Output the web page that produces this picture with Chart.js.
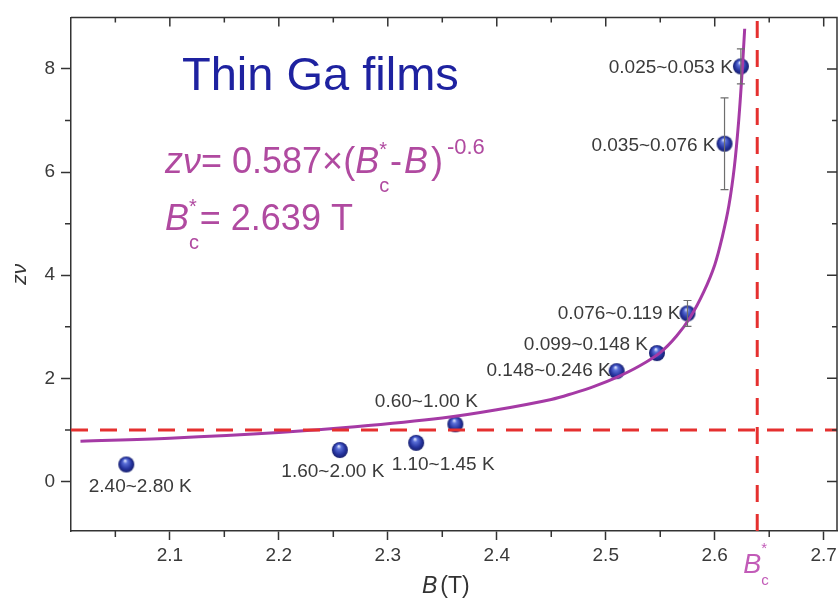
<!DOCTYPE html>
<html>
<head>
<meta charset="utf-8">
<script src="https://cdn.jsdelivr.net/npm/chart.js@4.4.0/dist/chart.umd.min.js"></script>
<style>
  html, body { margin: 0; padding: 0; overflow: hidden; background: #fff; }
  #wrap { width: 838px; height: 602px; overflow: hidden; }
  canvas { display: block; }
</style>
</head>
<body>
<div id="wrap"><canvas id="zvChart" width="846" height="602"></canvas></div>
<script>
// measured points, B (T) vs z*nu
const fieldB = [2.060, 2.256, 2.326, 2.362, 2.510, 2.547, 2.575, 2.609, 2.624];
const zNu = [0.33, 0.61, 0.75, 1.11, 2.14, 2.49, 3.26, 6.55, 8.05];
const zNuErr = [0, 0, 0, 0, 0, 0, 0.25, 0.89, 0.34];
const tempRange = ['2.40~2.80 K', '1.60~2.00 K', '1.10~1.45 K', '0.60~1.00 K', '0.148~0.246 K',
  '0.099~0.148 K', '0.076~0.119 K', '0.035~0.076 K', '0.025~0.053 K'];

// fitted power law
const fitB = [2.018, 2.10, 2.20, 2.27, 2.35, 2.40, 2.45, 2.47, 2.49, 2.51, 2.53, 2.55, 2.565,
  2.578, 2.59, 2.60, 2.607, 2.613, 2.618, 2.622, 2.625, 2.6275];
const fitZ = [0.78, 0.84, 0.95, 1.06, 1.23, 1.39, 1.59, 1.71, 1.85, 2.02, 2.23, 2.50, 2.82,
  3.20, 3.68, 4.20, 4.75, 5.35, 6.10, 7.00, 7.90, 8.78];

const bcStar = 2.639;
const zNuRef = 1;

const xTicks = [2.1, 2.2, 2.3, 2.4, 2.5, 2.6, 2.7];
const xMinor = [2.05, 2.15, 2.25, 2.35, 2.45, 2.55, 2.65];
const yTicks = [0, 2, 4, 6, 8];
const yMinor = [1, 3, 5, 7];
const xRange = [2.0093, 2.7122];
const yRange = [-0.96, 9.0];

// label placement next to each point: [align, dx, dy]
const labelPlace = [['center', 14, 22], ['center', -7, 22], ['center', 27, 22], ['center', -29, -22],
  ['right', -6, 0], ['right', -9, -8], ['right', -7, 0], ['right', -9, 2], ['right', -8, 1]];

const FONT = '"Liberation Sans", Arial, sans-serif';
const AXIS = '#333';
const PURPLE = '#a53aa5';
const PINK = '#b04aa0';

Chart.defaults.font.family = FONT;

function makeBall(r) {
  var c = document.createElement('canvas');
  c.width = c.height = 2 * r + 2;
  var g = c.getContext('2d');
  var m = r + 1;
  var grad = g.createRadialGradient(m - r * 0.15, m - r * 0.5, r * 0.05, m, m, r);
  grad.addColorStop(0, '#dfe6ff');
  grad.addColorStop(0.25, '#5a6fd8');
  grad.addColorStop(0.7, '#25339e');
  grad.addColorStop(1, '#18206e');
  g.fillStyle = grad;
  g.beginPath();
  g.arc(m, m, r, 0, Math.PI * 2);
  g.fill();
  return c;
}

function xy(xs, ys) {
  return xs.map((v, i) => ({ x: v, y: ys[i] }));
}

// draws text runs left to right (sub/superscripts etc.)
function drawRuns(ctx, x, y, runs) {
  runs.forEach(r => {
    ctx.font = (r.italic ? 'italic ' : '') + r.size + 'px ' + FONT;
    ctx.fillText(r.t, x, y + (r.dy || 0));
    if (!r.stack) x += ctx.measureText(r.t).width + (r.gap || 0);
  });
}

// box, minor ticks, inner ticks, error bars, labels
const decor = {
  id: 'decor',
  afterDatasetsDraw(chart) {
    const { ctx, chartArea: a, scales: { x, y } } = chart;
    ctx.save();
    ctx.strokeStyle = AXIS;
    ctx.lineWidth = 1.5;
    ctx.beginPath();
    ctx.moveTo(a.left, a.top);
    ctx.lineTo(a.right, a.top);
    ctx.lineTo(a.right, a.bottom);
    ctx.stroke();

    ctx.beginPath();
    xTicks.forEach(v => {
      var px = x.getPixelForValue(v);
      ctx.moveTo(px, a.top); ctx.lineTo(px, a.top + 9);
    });
    xMinor.forEach(v => {
      var px = x.getPixelForValue(v);
      ctx.moveTo(px, a.top); ctx.lineTo(px, a.top + 5);
      ctx.moveTo(px, a.bottom); ctx.lineTo(px, a.bottom + 6);
    });
    yTicks.forEach(v => {
      var py = y.getPixelForValue(v);
      ctx.moveTo(a.right, py); ctx.lineTo(a.right - 10, py);
    });
    yMinor.forEach(v => {
      var py = y.getPixelForValue(v);
      ctx.moveTo(a.left, py); ctx.lineTo(a.left - 6, py);
      ctx.moveTo(a.right, py); ctx.lineTo(a.right - 5, py);
    });
    ctx.stroke();

    // error bars
    ctx.strokeStyle = '#6e6e6e';
    ctx.lineWidth = 1.2;
    ctx.beginPath();
    fieldB.forEach((b, i) => {
      if (!zNuErr[i]) return;
      var px = x.getPixelForValue(b);
      var hi = y.getPixelForValue(zNu[i] + zNuErr[i]);
      var lo = y.getPixelForValue(zNu[i] - zNuErr[i]);
      ctx.moveTo(px, hi); ctx.lineTo(px, lo);
      ctx.moveTo(px - 4, hi); ctx.lineTo(px + 4, hi);
      ctx.moveTo(px - 4, lo); ctx.lineTo(px + 4, lo);
    });
    ctx.stroke();

    // temperature labels
    ctx.fillStyle = '#3a3a3a';
    ctx.font = '19px ' + FONT;
    ctx.textBaseline = 'middle';
    fieldB.forEach((b, i) => {
      var p = labelPlace[i];
      ctx.textAlign = p[0];
      ctx.fillText(tempRange[i], x.getPixelForValue(b) + p[1], y.getPixelForValue(zNu[i]) + p[2]);
    });

    // title and fit formula
    ctx.textAlign = 'left';
    ctx.textBaseline = 'alphabetic';
    ctx.fillStyle = '#1e22a0';
    ctx.font = '47px ' + FONT;
    ctx.fillText('Thin Ga films', 182, 90);

    ctx.fillStyle = PINK;
    drawRuns(ctx, 165, 173, [
      { t: 'zν', italic: true, size: 36 },
      { t: '= 0.587×(', size: 36 },
      { t: 'B', italic: true, size: 36 },
      { t: 'c', size: 20, dy: 19, stack: true },
      { t: '*', size: 20, dy: -17, gap: 3 },
      { t: '-', size: 36, gap: 2 },
      { t: 'B', italic: true, size: 36, gap: 3 },
      { t: ')', size: 36, gap: 4 },
      { t: '-0.6', size: 22, dy: -19 }
    ]);
    drawRuns(ctx, 165, 230, [
      { t: 'B', italic: true, size: 36 },
      { t: 'c', size: 20, dy: 19, stack: true },
      { t: '*', size: 20, dy: -17, gap: 3 },
      { t: '= 2.639 T', size: 36 }
    ]);

    // B_c* marker under the axis
    ctx.fillStyle = '#c25bb8';
    var bx = x.getPixelForValue(bcStar);
    drawRuns(ctx, bx - 14, 573, [
      { t: 'B', italic: true, size: 27 },
      { t: 'c', size: 15, dy: 12, stack: true },
      { t: '*', size: 15, dy: -20 }
    ]);

    // x axis title
    ctx.fillStyle = '#333';
    drawRuns(ctx, 422, 593, [
      { t: 'B', italic: true, size: 23, gap: 3 },
      { t: '(T)', size: 23 }
    ]);
    ctx.restore();
  }
};

new Chart('zvChart', {
  type: 'scatter',
  data: {
    datasets: [{
      label: 'zv = 1',
      data: [{ x: xRange[0], y: zNuRef }, { x: xRange[1], y: zNuRef }],
      showLine: true,
      borderColor: '#e5302f',
      borderWidth: 3,
      borderDash: [17, 12],
      pointRadius: 0,
      order: 0
    }, {
      label: 'Bc*',
      data: [{ x: bcStar, y: yRange[0] }, { x: bcStar, y: yRange[1] }],
      showLine: true,
      borderColor: '#e5302f',
      borderWidth: 3,
      borderDash: [17, 12],
      pointRadius: 0,
      order: 0
    }, {
      label: 'fit',
      data: xy(fitB, fitZ),
      showLine: true,
      tension: 0.35,
      borderColor: PURPLE,
      borderWidth: 3,
      pointRadius: 0,
      order: 1
    }, {
      label: 'data',
      data: xy(fieldB, zNu),
      pointStyle: makeBall(8),
      pointRadius: 8,
      order: 2
    }]
  },
  options: {
    responsive: false,
    animation: false,
    layout: { padding: { top: 10, right: 6, left: 0, bottom: 0 } },
    plugins: { legend: { display: false }, tooltip: { enabled: false } },
    scales: {
      x: {
        type: 'linear',
        min: xRange[0],
        max: xRange[1],
        afterBuildTicks: s => { s.ticks = xTicks.map(v => ({ value: v })); },
        afterFit: s => { s.height = 71; },
        ticks: { color: '#3a3a3a', font: { size: 19 }, padding: 4, maxRotation: 0, callback: v => v.toFixed(1) },
        grid: { drawOnChartArea: false, tickLength: 9, tickColor: AXIS, tickWidth: 1.5 },
        border: { color: AXIS, width: 1.5 }
      },
      y: {
        type: 'linear',
        min: yRange[0],
        max: yRange[1],
        afterBuildTicks: s => { s.ticks = yTicks.map(v => ({ value: v })); },
        afterFit: s => { s.width = 71; },
        ticks: { color: '#3a3a3a', font: { size: 19 }, padding: 6 },
        grid: { drawOnChartArea: false, tickLength: 10, tickColor: AXIS, tickWidth: 1.5 },
        border: { color: AXIS, width: 1.5 },
        title: { display: true, text: 'zν', color: '#333', font: { size: 21, style: 'italic' }, padding: { top: 8 } }
      }
    }
  },
  plugins: [decor]
});
</script>
</body>
</html>
